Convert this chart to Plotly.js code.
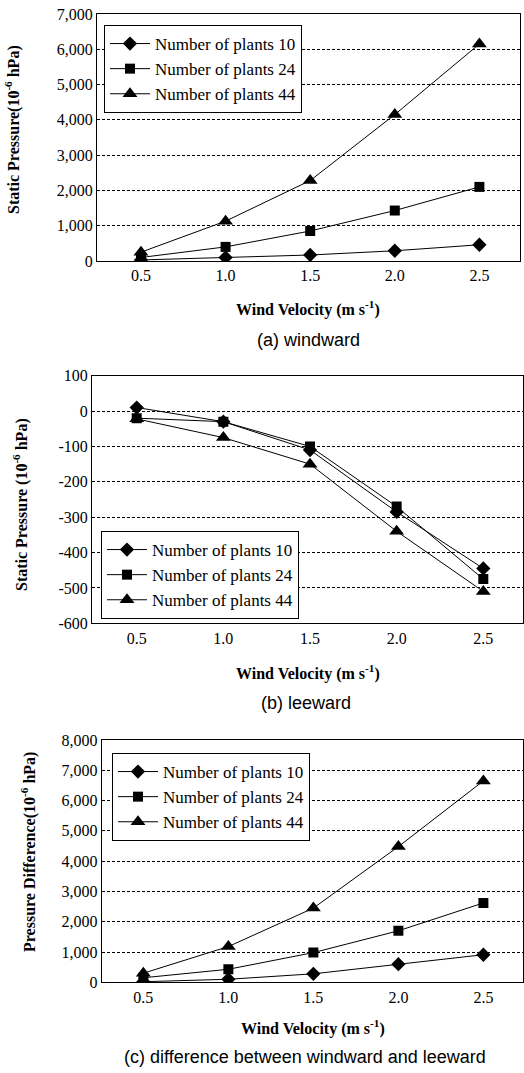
<!DOCTYPE html>
<html>
<head>
<meta charset="utf-8">
<script src="https://cdn.plot.ly/plotly-3.0.1.min.js"></script>
<style>html,body{margin:0;padding:0;background:#fff;}#chart{width:524px;height:1073px;}</style>
</head>
<body>
<div id="chart"></div>
<script>
// ---- data ----
const windVelocity = [0.5, 1.0, 1.5, 2.0, 2.5];
const seriesNames = ["Number of plants 10", "Number of plants 24", "Number of plants 44"];

const windward10 = [30, 100, 170, 290, 460];
const windward24 = [100, 400, 850, 1430, 2100];
const windward44 = [250, 1130, 2280, 4150, 6150];

const leeward10 = [10, -30, -110, -285, -445];
const leeward24 = [-20, -30, -100, -270, -475];
const leeward44 = [-22, -75, -150, -340, -510];

const diff10 = [20, 100, 280, 600, 910];
const diff24 = [150, 430, 980, 1700, 2620];
const diff44 = [300, 1180, 2450, 4480, 6650];

const xTickLabels = ["0.5", "1.0", "1.5", "2.0", "2.5"];
const yTicksA = [0, 1000, 2000, 3000, 4000, 5000, 6000, 7000];
const yTickLabelsA = ["0", "1,000", "2,000", "3,000", "4,000", "5,000", "6,000", "7,000"];
const yTicksB = [100, 0, -100, -200, -300, -400, -500, -600];
const yTickLabelsB = ["100", "0", "-100", "-200", "-300", "-400", "-500", "-600"];
const yTicksC = [0, 1000, 2000, 3000, 4000, 5000, 6000, 7000, 8000];
const yTickLabelsC = ["0", "1,000", "2,000", "3,000", "4,000", "5,000", "6,000", "7,000", "8,000"];

const captions = ["(a) windward", "(b) leeward", "(c) difference between windward and leeward"];
const yTitles = ["Static Pressure(10<sup>-6</sup> hPa)", "Static Pressure (10<sup>-6</sup> hPa)", "Pressure Difference(10<sup>-6</sup> hPa)"];
const xTitle = "Wind Velocity (m s<sup>-1</sup>)";

// ---- layout helpers ----
const W = 524, H = 1073;
const px = v => v / W;
const py = v => 1 - v / H;

const symbols = ["diamond", "square", "triangle-up"];
const sizes = [11, 10, 13];
const serif = "Liberation Serif, Times New Roman, serif";

function mkTraces(vals, xa, ya, leg) {
  return vals.map((v, i) => ({
    x: windVelocity, y: v, type: "scatter", mode: "lines+markers",
    name: seriesNames[i], xaxis: xa, yaxis: ya, legend: leg,
    legendgroup: leg + i,
    line: {color: "#000", width: 1},
    marker: {symbol: symbols[i], size: sizes[i], color: "#000"}
  }));
}

const data = [].concat(
  mkTraces([windward10, windward24, windward44], "x", "y", "legend"),
  mkTraces([leeward10, leeward24, leeward44], "x2", "y2", "legend2"),
  mkTraces([diff10, diff24, diff44], "x3", "y3", "legend3")
);

function xAxis(dom, rng, anchor) {
  return {
    domain: dom, range: rng, anchor: anchor,
    tickvals: windVelocity, ticktext: xTickLabels, ticks: "",
    showgrid: false, zeroline: false,
    showline: true, mirror: true, linecolor: "#000", linewidth: 1,
    tickfont: {family: serif, size: 16, color: "#000"}
  };
}
function yAxis(dom, rng, anchor, tv, tt, ticks) {
  return {
    domain: dom, range: rng, anchor: anchor,
    tickvals: tv, ticktext: tt,
    ticks: ticks ? "inside" : "", ticklen: 3, tickcolor: "#000",
    showgrid: true, gridcolor: "#000", gridwidth: 1, griddash: "3px,2px",
    zeroline: false,
    showline: true, mirror: true, linecolor: "#000", linewidth: 1,
    tickfont: {family: serif, size: 16, color: "#000"}
  };
}
function legendBox(x, y) {
  return {
    x: px(x), y: py(y), xanchor: "left", yanchor: "top",
    bgcolor: "#fff", bordercolor: "#000", borderwidth: 1,
    font: {family: serif, size: 17, color: "#000"},
    traceorder: "grouped", tracegroupgap: 0, itemwidth: 40
  };
}

const annFont = {family: serif, size: 16, color: "#000", weight: "bold"};
const capFont = {family: "Liberation Sans, Arial, sans-serif", size: 18, color: "#000"};

function ann(text, x, y, font, angle) {
  return {text: text, x: px(x), y: py(y), xref: "paper", yref: "paper",
    showarrow: false, xanchor: "center", yanchor: "middle",
    textangle: angle || 0, font: font};
}

const layout = {
  width: W, height: H,
  margin: {l: 0, r: 0, t: 0, b: 0},
  paper_bgcolor: "#fff", plot_bgcolor: "#fff",
  showlegend: true,
  xaxis: xAxis([px(97), px(520)], [0.24, 2.74], "y"),
  yaxis: yAxis([py(261), py(14)], [0, 7000], "x", yTicksA, yTickLabelsA, false),
  xaxis2: xAxis([px(92), px(523)], [0.242, 2.729], "y2"),
  yaxis2: yAxis([py(623.3), py(375.7)], [-600, 100], "x2", yTicksB, yTickLabelsB, true),
  xaxis3: xAxis([px(101.7), px(523)], [0.255, 2.733], "y3"),
  yaxis3: yAxis([py(982.3), py(740)], [0, 8000], "x3", yTicksC, yTickLabelsC, false),
  legend: legendBox(104, 25),
  legend2: legendBox(101, 531),
  legend3: legendBox(112, 753),
  annotations: [
    ann(yTitles[0], 12, 130, annFont, -90),
    ann(yTitles[1], 21, 505, annFont, -90),
    ann(yTitles[2], 28, 852, annFont, -90),
    ann(xTitle, 308, 308, annFont),
    ann(xTitle, 308, 672, annFont),
    ann(xTitle, 313, 1027, annFont),
    ann(captions[0], 308, 340, capFont),
    ann(captions[1], 306, 703, capFont),
    ann(captions[2], 305, 1057, capFont)
  ]
};

Plotly.newPlot("chart", data, layout, {displayModeBar: false, staticPlot: true});
</script>
</body>
</html>
